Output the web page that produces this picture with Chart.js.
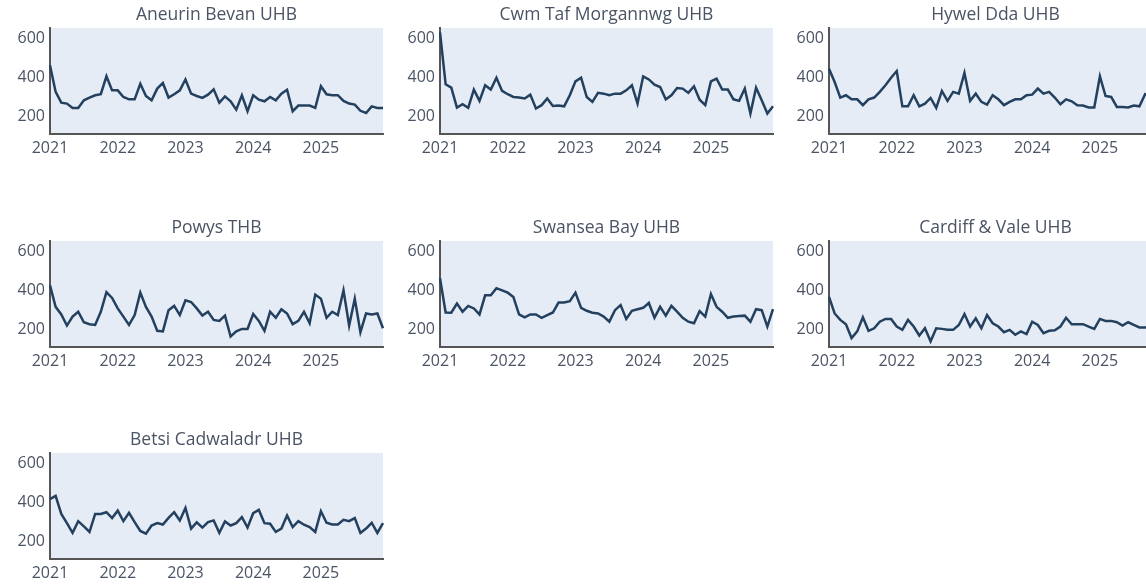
<!DOCTYPE html>
<html>
<head>
<meta charset="utf-8">
<script src="https://cdn.jsdelivr.net/npm/chart.js@4.4.1/dist/chart.umd.min.js"></script>
<style>
  html, body { margin: 0; padding: 0; background: #fff; overflow: hidden; width: 1146px; height: 584px; }
  canvas { position: absolute; }
</style>
</head>
<body>
<script>
// monthly counts per health board, Jan 2021 - Dec 2025
const years = ['2021', '2022', '2023', '2024', '2025'];
const yTicks = [200, 400, 600];

const aneurinBevan = [465,328,273,268,246,246,285,299,311,316,408,336,336,302,290,290,370,307,285,345,
  374,299,316,336,392,319,307,297,314,341,273,305,280,237,311,229,311,288,280,302,
  285,319,339,229,258,258,258,246,357,316,311,311,282,268,263,231,220,254,246,246];
const cwmTafMorgannwg = [634,367,350,248,265,246,340,282,362,340,401,333,316,302,299,294,314,243,260,294,
  256,258,254,311,382,401,302,277,323,319,311,319,319,336,362,268,408,392,365,353,
  290,311,348,345,323,357,288,260,382,396,340,340,290,282,345,217,350,285,217,254];
const hywelDda = [447,379,299,311,290,290,260,290,299,328,362,401,435,254,254,311,254,268,297,246,
  333,282,328,319,425,282,319,277,263,311,290,260,277,290,290,311,314,345,319,328,
  299,265,290,280,260,258,248,248,408,307,302,251,251,248,258,254,316,300,285,295];
const powys = [428,318,279,222,268,293,239,229,225,293,394,364,310,268,225,276,391,318,268,195,
  192,301,323,276,352,343,310,273,293,251,246,273,166,192,205,205,281,246,195,293,
  262,306,284,229,246,293,234,381,360,262,293,276,403,222,360,188,284,279,284,208];
const swanseaBay = [465,289,288,335,293,323,310,279,377,377,414,403,391,369,279,264,279,279,262,276,
  289,340,340,347,391,313,298,288,284,268,242,301,327,256,298,306,313,338,262,318,
  273,323,293,262,242,234,296,268,384,318,293,262,268,271,273,242,306,301,217,306];
const cardiffVale = [369,284,251,229,158,192,264,195,208,242,256,256,217,200,251,217,171,208,141,208,
  205,200,200,225,281,217,259,208,276,234,217,188,200,175,192,178,242,225,183,195,
  198,217,262,229,229,229,217,205,256,246,246,239,222,239,225,212,212,215,210,212];
const betsiCadwaladr = [419,436,343,296,246,306,279,251,343,343,352,322,360,306,349,301,256,242,284,296,
  289,323,352,310,374,268,300,273,301,310,246,305,284,296,327,273,347,364,296,293,
  251,268,335,276,306,288,276,251,357,298,289,289,313,306,322,246,268,298,246,296];

const months = [];
years.forEach(y => {
  for (let m = 1; m <= 12; m++) months.push(y + '-' + String(m).padStart(2, '0'));
});

const panels = [
  { title: 'Aneurin Bevan UHB', data: aneurinBevan, col: 0, row: 0 },
  { title: 'Cwm Taf Morgannwg UHB', data: cwmTafMorgannwg, col: 1, row: 0 },
  { title: 'Hywel Dda UHB', data: hywelDda, col: 2, row: 0 },
  { title: 'Powys THB', data: powys, col: 0, row: 1 },
  { title: 'Swansea Bay UHB', data: swanseaBay, col: 1, row: 1 },
  { title: 'Cardiff & Vale UHB', data: cardiffVale, col: 2, row: 1 },
  { title: 'Betsi Cadwaladr UHB', data: betsiCadwaladr, col: 0, row: 2 },
];

const textColor = '#4a5465';
const font = { family: '"Open Sans", sans-serif', size: 16 };

// paint the light blue plot background
const plotBg = {
  id: 'plotBg',
  beforeDraw(chart) {
    const { ctx, chartArea: a } = chart;
    ctx.save();
    ctx.fillStyle = '#e5ecf6';
    ctx.fillRect(a.left, a.top, a.right - a.left, a.bottom - a.top);
    ctx.restore();
  },
};

panels.forEach((p) => {
  const canvas = document.createElement('canvas');
  canvas.width = 388;
  canvas.height = 164;
  canvas.style.left = (p.col * 389.5) + 'px';
  canvas.style.top = (p.row * 212.5) + 'px';
  document.body.appendChild(canvas);

  new Chart(canvas.getContext('2d'), {
    type: 'line',
    data: {
      labels: months,
      datasets: [{
        label: p.title,
        data: p.data,
        borderColor: '#23405f',
        borderWidth: 2.5,
        pointRadius: 0,
        tension: 0,
        fill: false,
      }],
    },
    options: {
      responsive: false,
      animation: false,
      devicePixelRatio: 1,
      layout: { padding: { left: 0, right: 4, top: 0, bottom: 0 } },
      plugins: {
        legend: { display: false },
        tooltip: { enabled: false },
        title: {
          display: true,
          text: p.title,
          fullSize: false,
          color: textColor,
          font: { family: font.family, size: 17.5, weight: 'normal' },
          padding: { top: 5, bottom: 2 },
        },
      },
      scales: {
        x: {
          type: 'category',
          offset: false,
          grid: { display: false, drawTicks: false },
          border: { display: true, color: '#555', width: 2 },
          afterFit(scale) { scale.height = 30; },
          ticks: {
            autoSkip: false,
            maxRotation: 0,
            padding: 5,
            color: textColor,
            font,
            callback(value, index) {
              return index % 12 === 0 ? years[index / 12] : '';
            },
          },
        },
        y: {
          min: 112,
          max: 656,
          grid: { display: false, drawTicks: false },
          border: { display: true, color: '#555', width: 2 },
          afterFit(scale) { scale.width = 50; },
          afterBuildTicks(scale) { scale.ticks = yTicks.map(v => ({ value: v })); },
          ticks: { padding: 5, color: textColor, font },
        },
      },
    },
    plugins: [plotBg],
  });
});
</script>
</body>
</html>
